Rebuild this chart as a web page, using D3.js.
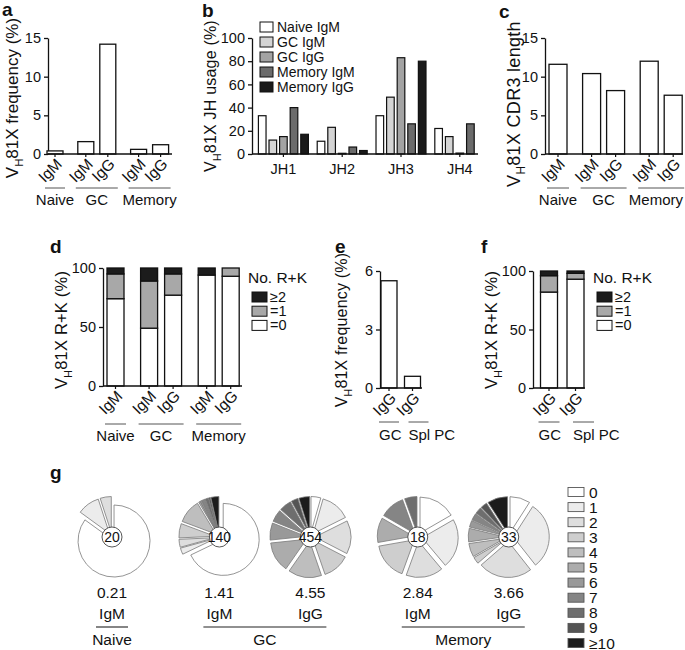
<!DOCTYPE html>
<html><head><meta charset="utf-8">
<script src="https://cdn.jsdelivr.net/npm/d3@7"></script>
<style>
body{margin:0;background:#fff}
svg{display:block}
text{font-family:"Liberation Sans",Arial,Helvetica,sans-serif;fill:#111}
</style>
</head><body>
<svg id="chart" width="685" height="650"></svg>
<script>
// ---------- DATA ----------
const subsetCats   = ["IgM","IgM","IgG","IgM","IgG"];
const subsetGroups = ["Naive","GC","GC","Memory","Memory"];
const freqA  = [0.4, 1.6, 14.2, 0.6, 1.2];          // VH81X frequency (%)
const cdr3C  = [11.6, 10.4, 8.2, 12.0, 7.6];         // CDR3 length
const rkZeroD    = [74, 49, 77, 94, 93];             // =0
const rkOneD     = [21, 40, 18, 0, 7];               // =1
const rkTwoPlusD = [5, 11, 5, 6, 0];                 // >=2

const jhGenes  = ["JH1","JH2","JH3","JH4"];
const jhSeries = ["Naive IgM","GC IgM","GC IgG","Memory IgM","Memory IgG"];
const jhNaiveIgM  = [33, 11, 33, 22];
const jhGcIgM     = [12, 23, 49, 15];
const jhGcIgG     = [15, 0.6, 83, 0.8];
const jhMemoryIgM = [40, 6, 26, 26];
const jhMemoryIgG = [17, 3, 80, 0];

const plasmaCats   = ["IgG","IgG"];
const plasmaGroups = ["GC","Spl PC"];
const freqE    = [5.5, 0.6];
const rkZeroF    = [82, 93];
const rkOneF     = [14, 5];
const rkTwoPlusF = [4, 2];

const rkKeys   = [">=2","=1","=0"];
const rkLabels = ["\u22652","=1","=0"];

const mutClasses = ["0","1","2","3","4","5","6","7","8","9","\u226510"];
const pieCats    = ["IgM","IgM","IgG","IgM","IgG"];
const pieGroups  = ["Naive","GC","GC","Memory","Memory"];
const pieTotals  = [20, 140, 454, 18, 33];
const pieMeans   = ["0.21","1.41","4.55","2.84","3.66"];
const pieNaiveIgM  = [17, 2, 1, 0, 0, 0, 0, 0, 0, 0, 0];
const pieGcIgM     = [95, 4, 5, 9, 15, 1, 1, 2, 2, 1, 5];
const pieGcIgG     = [20, 60, 68, 55, 68, 62, 35, 25, 25, 14, 22];
const pieMemoryIgM = [3, 4, 3, 3, 0, 2, 0, 2, 1, 0, 0];
const pieMemoryIgG = [3, 10, 8, 1, 2, 2, 1, 1, 1, 1, 3];

// ---------- STYLES ----------
const jhColors  = ["#ffffff","#d4d4d4","#a3a3a3","#6b6b6b","#1a1a1a"];
const rkColors  = {">=2":"#1c1c1c","=1":"#a8a8a8","=0":"#ffffff"};
const mutColors = ["#ffffff","#ececec","#dedede","#cecece","#bebebe","#acacac","#999999","#858585","#6e6e6e","#545454","#1c1c1c"];

const svg = d3.select("#chart");
const W = 685;

function panelLetter(t, x, y) {
  svg.append("text").attr("x", x).attr("y", y).attr("font-size", 19)
    .attr("font-weight", "bold").text(t);
}

function yTitle(x, y, size, rest, ls) {
  const t = svg.append("text").attr("transform", `translate(${x},${y}) rotate(-90)`)
    .attr("text-anchor", "middle").attr("font-size", size).attr("letter-spacing", ls || 0);
  t.append("tspan").text("V");
  t.append("tspan").attr("font-size", size * 0.66).attr("dy", size * 0.3).text("H");
  t.append("tspan").attr("dy", -size * 0.3).text("81X " + rest);
}

function styleAxis(ax) {
  ax.select(".domain").attr("stroke", "#111").attr("stroke-width", 1.3);
  ax.selectAll(".tick line").attr("stroke", "#111").attr("stroke-width", 1.3);
  ax.selectAll(".tick text").attr("font-size", 14.5).attr("fill", "#111")
    .attr("font-family", '"Liberation Sans",Arial,sans-serif');
}

function groupIndex(groups) {
  const idx = []; let gi = -1, prev = null;
  groups.forEach(g => { if (g !== prev) { gi++; prev = g; } idx.push(gi); });
  return idx;
}

// generic (stacked) bar panel
function barPanel(o) {
  const g = svg.append("g");
  const y = d3.scaleLinear().domain([0, o.max]).range([o.yBot, o.yTop]);
  const gidx = groupIndex(o.groups);
  const pos = o.groups.map((_, i) => i + o.gapF * gidx[i]);
  const x = d3.scaleLinear().domain([0, 1]).range([o.first, o.first + o.unit]);

  const ax = g.append("g").attr("transform", `translate(${o.x0},0)`)
    .call(d3.axisLeft(y).tickValues(o.ticks).tickFormat(d3.format("~g"))
      .tickSize(4).tickSizeOuter(0).tickPadding(3));
  styleAxis(ax);

  const rows = o.cats.map((c, i) => {
    const r = {i};
    o.keys.forEach((k, j) => r[k] = o.series[j][i]);
    return r;
  });
  const stack = d3.stack().keys(o.keys)(rows);
  stack.forEach((layer, j) => {
    g.append("g").selectAll("rect").data(layer.filter(d => d[1] > d[0])).join("rect")
      .attr("x", d => x(pos[d.data.i]) - o.bw / 2)
      .attr("width", o.bw)
      .attr("y", d => y(d[1]))
      .attr("height", d => Math.max(0, y(d[0]) - y(d[1])))
      .attr("fill", o.colors[j])
      .attr("stroke", "#111").attr("stroke-width", 1.3);
  });

  // baseline
  g.append("line").attr("x1", o.x0).attr("x2", o.xEnd)
    .attr("y1", o.yBot).attr("y2", o.yBot).attr("stroke", "#111").attr("stroke-width", 1.3);
  // small ticks
  g.selectAll("line.xt").data(pos).join("line").attr("class", "xt")
    .attr("x1", p => x(p)).attr("x2", p => x(p))
    .attr("y1", o.yBot).attr("y2", o.yBot + 3).attr("stroke", "#111").attr("stroke-width", 1.2);
  // rotated labels
  g.selectAll("text.cat").data(o.cats).join("text").attr("class", "cat")
    .attr("transform", (d, i) => `translate(${x(pos[i]) + 8},${o.yBot + 11}) rotate(-45)`)
    .attr("text-anchor", "end").attr("font-size", 15.5).text(d => d);
  // group lines + names
  const uniq = [...new Set(o.groups)];
  uniq.forEach((gr, gi) => {
    const ps = pos.filter((p, i) => o.groups[i] === gr);
    const shift = o.lineShift ? o.lineShift[gi] : 0;
    const xa = x(d3.min(ps)) - o.bw / 2 - 2 + shift, xb = x(d3.max(ps)) + o.bw / 2 + 2 + shift;
    g.append("line").attr("x1", xa).attr("x2", xb).attr("y1", o.yBot + o.lineDy).attr("y2", o.yBot + o.lineDy)
      .attr("stroke", "#555").attr("stroke-width", 1);
    const t = g.append("text").attr("y", o.yBot + o.textDy).attr("font-size", 15).text(gr);
    if (o.labelStart) {
      t.attr("x", xa).attr("text-anchor", "start");
    } else {
      t.attr("x", (xa + xb) / 2).attr("text-anchor", "middle");
      const w = t.node().getComputedTextLength();
      const over = (xa + xb) / 2 + w / 2 - (W - 2);
      if (over > 0) t.attr("x", (xa + xb) / 2 - over);
    }
  });
}

function rkLegend(x, y) {
  svg.append("text").attr("x", x).attr("y", y).attr("font-size", 15.5).text("No. R+K");
  rkKeys.forEach((k, i) => {
    const cy = y + 14 + 14.2 * i;
    svg.append("rect").attr("x", x + 4).attr("y", cy - 5).attr("width", 15).attr("height", 10)
      .attr("fill", rkColors[k]).attr("stroke", "#111").attr("stroke-width", 1);
    svg.append("text").attr("x", x + 22).attr("y", cy + 5).attr("font-size", 14.5).text(rkLabels[i]);
  });
}

// ---------- PANEL a ----------
panelLetter("a", 2, 16);
barPanel({x0: 48, xEnd: 172, yTop: 38, yBot: 154, max: 15, ticks: [0, 5, 10, 15],
  first: 55, unit: 22, gapF: 0.4, bw: 16, cats: subsetCats, groups: subsetGroups,
  keys: ["v"], series: [freqA], colors: ["#fff"], lineDy: 34, textDy: 51});
yTitle(18, 98, 17, "frequency (%)", 0);

// ---------- PANEL b ----------
panelLetter("b", 202, 17);
(function () {
  const g = svg.append("g");
  const y = d3.scaleLinear().domain([0, 100]).range([154, 38]);
  const x0 = d3.scaleBand().domain(jhGenes).range([254, 254 + 4 * 58.8]).paddingInner(0.15).paddingOuter(0.075);
  const x1 = d3.scaleBand().domain(jhSeries).range([0, x0.bandwidth()]).paddingInner(0.28);
  const ax = g.append("g").attr("transform", "translate(252,0)")
    .call(d3.axisLeft(y).tickValues([0, 20, 40, 60, 80, 100]).tickSize(4).tickSizeOuter(0).tickPadding(3));
  styleAxis(ax);
  const allSeries = [jhNaiveIgM, jhGcIgM, jhGcIgG, jhMemoryIgM, jhMemoryIgG];
  jhSeries.forEach((s, j) => {
    g.append("g").selectAll("rect").data(jhGenes.map((jh, i) => ({jh, v: allSeries[j][i]})).filter(d => d.v > 0))
      .join("rect")
      .attr("x", d => x0(d.jh) + x1(s)).attr("width", x1.bandwidth())
      .attr("y", d => y(d.v)).attr("height", d => y(0) - y(d.v))
      .attr("fill", jhColors[j]).attr("stroke", "#111").attr("stroke-width", 1.2);
  });
  g.append("line").attr("x1", 252).attr("x2", 478).attr("y1", 154).attr("y2", 154)
    .attr("stroke", "#111").attr("stroke-width", 1.3);
  jhGenes.forEach(jh => {
    const cx = x0(jh) + x0.bandwidth() / 2;
    g.append("line").attr("x1", cx).attr("x2", cx).attr("y1", 154).attr("y2", 157).attr("stroke", "#111").attr("stroke-width", 1.2);
    g.append("text").attr("x", cx).attr("y", 174).attr("text-anchor", "middle").attr("font-size", 14.5).text(jh);
  });
  jhSeries.forEach((s, i) => {
    const cy = 27 + 15 * i;
    g.append("rect").attr("x", 260).attr("y", cy - 5).attr("width", 13).attr("height", 10)
      .attr("fill", jhColors[i]).attr("stroke", "#111").attr("stroke-width", 1);
    g.append("text").attr("x", 277).attr("y", cy + 5).attr("font-size", 14).text(s);
  });
})();
yTitle(216, 96, 16, "JH usage (%)", 0.2);

// ---------- PANEL c ----------
panelLetter("c", 499, 18);
barPanel({x0: 545, xEnd: 683, yTop: 38, yBot: 154, max: 15, ticks: [0, 5, 10, 15],
  first: 558, unit: 24, gapF: 0.4, bw: 18, cats: subsetCats, groups: subsetGroups,
  keys: ["v"], series: [cdr3C], colors: ["#fff"], lineDy: 34, textDy: 51});
yTitle(520, 104, 18, "CDR3 length", 0.3);

// ---------- PANEL d ----------
panelLetter("d", 50, 253);
barPanel({x0: 103, xEnd: 242, yTop: 268, yBot: 386, max: 100, ticks: [0, 50, 100],
  first: 115.5, unit: 24, gapF: 0.4, bw: 17, cats: subsetCats, groups: subsetGroups,
  keys: ["=0", "=1", ">=2"], series: [rkZeroD, rkOneD, rkTwoPlusD],
  colors: [rkColors["=0"], rkColors["=1"], rkColors[">=2"]], lineDy: 38, textDy: 55});
yTitle(67, 330, 16.5, "R+K (%)", 0.2);
rkLegend(248, 283);

// ---------- PANEL e ----------
panelLetter("e", 335, 253);
barPanel({x0: 380, xEnd: 422, yTop: 271, yBot: 388, max: 6, ticks: [0, 3, 6],
  first: 389, unit: 23.5, gapF: 0, bw: 16, cats: plasmaCats, groups: plasmaGroups,
  keys: ["v"], series: [freqE], colors: ["#fff"], lineDy: 34, textDy: 52,
  labelStart: true, lineShift: [0, 6]});
yTitle(347, 330, 16, "frequency (%)", 0.2);

// ---------- PANEL f ----------
panelLetter("f", 481, 253);
barPanel({x0: 533, xEnd: 585, yTop: 271, yBot: 388, max: 100, ticks: [0, 50, 100],
  first: 549, unit: 26.5, gapF: 0, bw: 17, cats: plasmaCats, groups: plasmaGroups,
  keys: ["=0", "=1", ">=2"], series: [rkZeroF, rkOneF, rkTwoPlusF],
  colors: [rkColors["=0"], rkColors["=1"], rkColors[">=2"]], lineDy: 34, textDy: 52,
  labelStart: true, lineShift: [0, 8]});
yTitle(497, 330, 16.5, "R+K (%)", 0.2);
rkLegend(593, 283);

// ---------- PANEL g ----------
panelLetter("g", 50, 479);
(function () {
  const pieData = [pieNaiveIgM, pieGcIgM, pieGcIgG, pieMemoryIgM, pieMemoryIgG];
  const gidx = groupIndex(pieGroups);
  const pos = pieGroups.map((_, i) => i + 0.18 * gidx[i]);
  const px = d3.scaleLinear().domain([0, 1]).range([112, 203]);
  const cy = 537, R = 36, off = 4.5;
  const pie = d3.pie().sort(null).value(d => d.v);
  const arc = d3.arc().innerRadius(0).outerRadius(R);
  pieData.forEach((counts, p) => {
    const cx = px(pos[p]);
    const g = svg.append("g").attr("transform", `translate(${cx},${cy})`);
    const arcs = pie(counts.map((v, k) => ({v, k}))).filter(d => d.data.v > 0);
    g.selectAll("path").data(arcs).join("path")
      .attr("transform", d => {
        const m = (d.startAngle + d.endAngle) / 2;
        return `translate(${off * Math.sin(m)},${-off * Math.cos(m)})`;
      })
      .attr("d", arc).attr("fill", d => mutColors[d.data.k])
      .attr("stroke", "#7a7a7a").attr("stroke-width", 0.8);
    g.append("circle").attr("r", 10).attr("fill", "#fff").attr("stroke", "#444").attr("stroke-width", 0.9);
    g.append("text").attr("y", 5).attr("text-anchor", "middle").attr("font-size", 14).text(pieTotals[p]);
    svg.append("text").attr("x", cx).attr("y", 598).attr("text-anchor", "middle").attr("font-size", 15.5).text(pieMeans[p]);
    svg.append("text").attr("x", cx).attr("y", 619).attr("text-anchor", "middle").attr("font-size", 15.5).text(pieCats[p]);
  });
  const uniq = [...new Set(pieGroups)];
  uniq.forEach(gr => {
    const ps = pos.filter((q, i) => pieGroups[i] === gr);
    const xa = px(d3.min(ps)) - 16, xb = px(d3.max(ps)) + 16;
    svg.append("line").attr("x1", xa).attr("x2", xb).attr("y1", 627).attr("y2", 627)
      .attr("stroke", "#222").attr("stroke-width", 1.1);
    svg.append("text").attr("x", (xa + xb) / 2).attr("y", 645).attr("text-anchor", "middle")
      .attr("font-size", 15.5).text(gr);
  });
  // legend
  mutClasses.forEach((m, i) => {
    const yy = 492 + 15.1 * i;
    svg.append("rect").attr("x", 568).attr("y", yy - 4.5).attr("width", 16).attr("height", 9)
      .attr("fill", mutColors[i]).attr("stroke", "#555").attr("stroke-width", 0.9);
    svg.append("text").attr("x", 589).attr("y", yy + 5.5).attr("font-size", 15.5).text(m);
  });
})();
</script>
</body></html>
